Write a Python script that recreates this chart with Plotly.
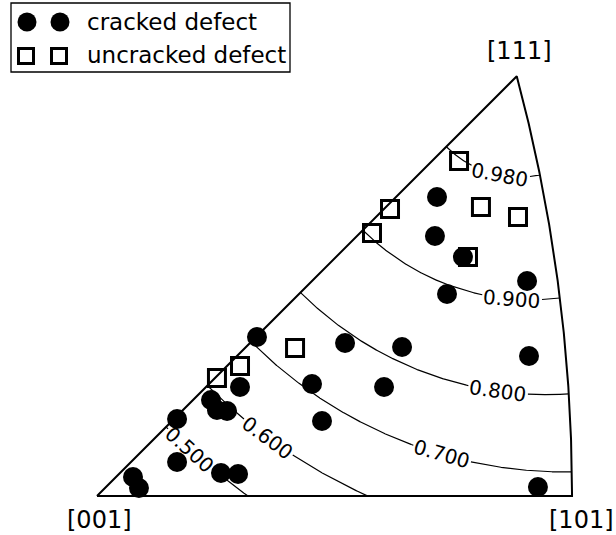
import numpy as np
import plotly.graph_objects as go

# ---- data (stereographic projection coordinates, [001] at origin) ----
cracked_x = [0.2965, 0.2947, 0.3191, 0.3052, 0.3750, 0.3767, 0.3845, 0.1395, 0.2163, 0.2660,
             0.1247, 0.1875, 0.2503, 0.1962, 0.0994, 0.1046, 0.1134, 0.0698, 0.0698, 0.1081,
             0.1230, 0.0314, 0.0366]
cracked_y = [0.2607, 0.2267, 0.2084, 0.1761, 0.1875, 0.1221, 0.0078, 0.1386, 0.1334, 0.1299,
             0.0950, 0.0977, 0.0950, 0.0654, 0.0837, 0.0750, 0.0741, 0.0671, 0.0296, 0.0201,
             0.0192, 0.0166, 0.0070]
uncracked_x = [0.3157, 0.2555, 0.2398, 0.3348, 0.3671, 0.3235, 0.1727, 0.1247, 0.1046]
uncracked_y = [0.2921, 0.2503, 0.2293, 0.2520, 0.2433, 0.2084, 0.1291, 0.1134, 0.1029]

levels = [0.5, 0.6, 0.7, 0.8, 0.9, 0.98]
level_labels = ["0.500", "0.600", "0.700", "0.800", "0.900", "0.980"]
label_x = [0.0811, 0.1491, 0.3008, 0.3497, 0.3619, 0.3514]
corner_labels = ["[001]", "[101]", "[111]"]
legend_labels = ["cracked defect", "uncracked defect"]

# ---- layout constants ----
W, H = 616, 535
S = 1146.8          # px per stereographic unit
OX, OY = 97, 496    # pixel position of [001]
FONT = "DejaVu Sans"

xr = [-OX / S, (W - OX) / S]
yr = [(OY - H) / S, OY / S]


def inside(X, Y):
    return (Y >= -1e-9) & (Y <= X + 1e-9) & ((X + 1) ** 2 + Y ** 2 <= 2 + 1e-9)


fig = go.Figure()

# triangle boundary
x101 = np.sqrt(2) - 1
p111 = 1 / np.sqrt(3) / (1 + 1 / np.sqrt(3))
ang111 = np.arctan2(p111, 1 + p111)
arc_t = np.linspace(0, ang111, 200)
bx = np.concatenate([[0.0, x101], -1 + np.sqrt(2) * np.cos(arc_t), [0.0]])
by = np.concatenate([[0.0, 0.0], np.sqrt(2) * np.sin(arc_t), [0.0]])
fig.add_trace(go.Scatter(x=bx, y=by, mode="lines", line=dict(color="black", width=2),
                         hoverinfo="skip", showlegend=False))

# contour lines: constant f = cos^2(angle to [111])
a = 1 / np.sqrt(3)
annotations = []
for f, lab, lx in zip(levels, level_labels, label_x):
    k = np.sqrt(f)
    xc = a / (a + k)
    r = np.sqrt(2 * a * a / (a + k) ** 2 - (k - a) / (a + k))
    th = np.linspace(0.5 * np.pi, 2 * np.pi, 6000)
    X = xc + r * np.cos(th)
    Y = xc + r * np.sin(th)
    m = inside(X, Y)
    X, Y = X[m], Y[m]
    i = int(np.argmin(np.abs(X - lx)))
    x0, y0 = X[i], Y[i]
    j0, j1 = max(i - 5, 0), min(i + 5, len(X) - 1)
    ang = -np.degrees(np.arctan2(Y[j1] - Y[j0], X[j1] - X[j0]))
    d = np.hypot(X - x0, Y - y0) * S
    keep = d > 30
    segx, segy = [], []
    for xi, yi, kp in zip(X, Y, keep):
        if kp:
            segx.append(xi); segy.append(yi)
        else:
            if segx and segx[-1] is not None:
                segx.append(None); segy.append(None)
    fig.add_trace(go.Scatter(x=segx, y=segy, mode="lines", line=dict(color="black", width=1.2),
                             hoverinfo="skip", showlegend=False))
    annotations.append(dict(x=x0, y=y0, xref="x", yref="y", text=lab, showarrow=False,
                            textangle=ang, font=dict(family=FONT, size=20, color="black"),
                            xanchor="center", yanchor="middle"))

# data points
fig.add_trace(go.Scatter(x=uncracked_x, y=uncracked_y, mode="markers", name=legend_labels[1],
                         marker=dict(symbol="square-open", size=17, color="black",
                                     line=dict(width=3, color="black")),
                         showlegend=False))
fig.add_trace(go.Scatter(x=cracked_x, y=cracked_y, mode="markers", name=legend_labels[0],
                         marker=dict(symbol="circle", size=20, color="black",
                                     line=dict(width=0)),
                         showlegend=False))

# corner labels
corners = [(0.0, 0.0, 2, -24), (x101, 0.0, 9, -24), (p111, p111, 3, 25)]
for lab, (cx, cy, dx, dy) in zip(corner_labels, corners):
    annotations.append(dict(x=cx, y=cy, xref="x", yref="y", text=lab, showarrow=False,
                            xshift=dx, yshift=dy, font=dict(family=FONT, size=24, color="black"),
                            xanchor="center", yanchor="middle"))

# manual legend (two markers per entry)
def px(xp):
    return xp / W


def py(yp):
    return 1 - yp / H


shapes = [dict(type="rect", xref="paper", yref="paper", x0=px(11), x1=px(290), y0=py(72), y1=py(3),
               line=dict(color="black", width=1.3), fillcolor="white", layer="below")]
for cxp in (27, 60):
    shapes.append(dict(type="circle", xref="paper", yref="paper",
                       x0=px(cxp - 9.5), x1=px(cxp + 9.5), y0=py(22 + 9.5), y1=py(22 - 9.5),
                       fillcolor="black", line=dict(width=0)))
for cxp in (26, 59):
    shapes.append(dict(type="rect", xref="paper", yref="paper",
                       x0=px(cxp - 7.5), x1=px(cxp + 7.5), y0=py(56 + 7.5), y1=py(56 - 7.5),
                       fillcolor="rgba(0,0,0,0)", line=dict(color="black", width=3)))
for lab, yl in zip(legend_labels, (22, 55)):
    annotations.append(dict(x=px(85), y=py(yl), xref="paper", yref="paper", text=lab,
                            showarrow=False, xanchor="left", yanchor="middle",
                            font=dict(family=FONT, size=23, color="black")))

fig.update_layout(width=W, height=H, autosize=False, margin=dict(l=0, r=0, t=0, b=0),
                  paper_bgcolor="white", plot_bgcolor="white",
                  xaxis=dict(range=xr, visible=False, fixedrange=True),
                  yaxis=dict(range=yr, visible=False, fixedrange=True),
                  annotations=annotations, shapes=shapes, showlegend=False,
                  font=dict(family=FONT))

fig.write_html("out.html", config={"displayModeBar": False, "staticPlot": True},
               post_script="document.body.style.margin='0px';")
